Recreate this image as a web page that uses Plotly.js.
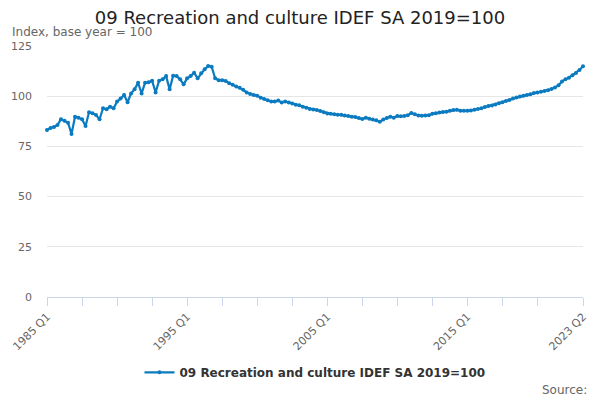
<!DOCTYPE html>
<html>
<head>
<meta charset="utf-8">
<script src="https://cdn.plot.ly/plotly-3.0.1.min.js"></script>
<style>
  body { margin: 0; }
  #chart { width: 600px; height: 400px; }
</style>
</head>
<body>
<div id="chart"></div>
<script>
// quarters 1985 Q1 .. 2023 Q2
var firstYear = 1985;
var quarterCount = 154;

var indexValues = [
    83.2, 84.2, 84.7, 85.7, 88.5, 87.8, 86.8, 81.2, 89.8, 89.3,
    88.5, 85.2, 92.0, 91.5, 90.6, 88.5, 94.0, 93.5, 94.8, 94.0,
    97.3, 98.8, 100.6, 97.0, 101.4, 103.4, 106.7, 101.4, 106.7, 106.9,
    107.7, 101.9, 107.7, 108.4, 110.0, 103.4, 110.2, 110.0, 108.4, 105.9,
    108.9, 110.0, 111.7, 108.9, 111.4, 113.4, 115.0, 114.7, 108.9, 108.0,
    108.0, 107.6, 106.5, 105.7, 104.8, 104.2, 103.2, 101.8, 101.1, 100.6,
    100.2, 99.2, 98.6, 98.0, 97.4, 97.3, 97.8, 96.9, 97.3, 96.9,
    96.4, 95.8, 95.5, 94.7, 94.2, 93.6, 93.4, 93.1, 92.6, 92.0,
    91.4, 91.2, 91.0, 90.8, 90.7, 90.4, 90.2, 89.8, 89.6, 89.1,
    88.6, 89.3, 88.8, 88.4, 88.0, 87.3, 88.4, 89.2, 89.8, 89.3,
    90.1, 90.0, 90.2, 90.5, 91.6, 91.0, 90.4, 90.3, 90.4, 90.5,
    91.2, 91.5, 91.9, 92.1, 92.3, 92.8, 93.1, 93.2, 92.8, 92.7,
    92.7, 92.9, 93.2, 93.6, 94.0, 94.6, 95.1, 95.4, 95.9, 96.5,
    97.0, 97.6, 98.1, 98.8, 99.3, 99.8, 100.2, 100.6, 101.0, 101.6,
    101.9, 102.2, 102.6, 103.0, 103.6, 104.3, 105.4, 107.3, 108.5, 109.2,
    110.4, 111.6, 113.1, 114.9
];

var quarterLabels = [];
for (var i = 0; i < quarterCount; i++) {
    quarterLabels.push((firstYear + Math.floor(i / 4)) + " Q" + (i % 4 + 1));
}

var tickIdx = [0, 10, 20, 30, 40, 50, 60, 70, 80, 90, 100, 110, 120, 130, 140, 153];
var labelledIdx = [0, 40, 80, 120, 153];
var yTicks = [0, 25, 50, 75, 100, 125];

var tickVals = tickIdx.map(k => quarterLabels[k]);
var tickText = tickIdx.map(k => labelledIdx.indexOf(k) >= 0 ? quarterLabels[k] : "");

var seriesName = "09 Recreation and culture IDEF SA 2019=100";

var data = [
    {
    x: quarterLabels,
    y: indexValues,
    mode: 'lines+markers',
    type: 'scatter',
    name: seriesName,
    cliponaxis: false,
    line: {
        color: '#0b7bc1',
        width: 2.2
    },
    marker: {
        color: '#0b7bc1',
        size: 4
    }
    }
];

var layout = {
    width: 600,
    height: 400,
    margin: {l: 47, r: 17, t: 46, b: 103},
    font: {
        family: 'DejaVu Sans, sans-serif',
        color: '#666666',
        size: 11
    },
    title: {
        text: seriesName,
        x: 0.5,
        xref: 'container',
        y: 0.955,
        yanchor: 'middle',
        font: {size: 18, color: '#222222'}
    },
    xaxis: {
        type: 'category',
        range: [0, quarterCount - 1],
        tickmode: 'array',
        tickvals: tickVals,
        ticktext: tickText,
        tickangle: -45,
        ticks: 'outside',
        ticklen: 8,
        tickcolor: '#ccd6eb',
        showline: true,
        linecolor: '#ccd6eb',
        showgrid: false,
        zeroline: false,
        tickfont: {size: 11, color: '#666666'}
    },
    yaxis: {
        range: [0, 125],
        tickmode: 'array',
        tickvals: yTicks,
        showgrid: true,
        gridcolor: '#e6e6e6',
        zeroline: false,
        showline: false,
        ticks: '',
        ticklabelstandoff: 14,
        tickfont: {size: 11, color: '#666666'}
    },
    showlegend: true,
    legend: {
        orientation: 'h',
        x: 0.5,
        xanchor: 'center',
        y: -0.30,
        yanchor: 'middle',
        font: {size: 12, color: '#333333', weight: 'bold'}
    },
    annotations: [
        {
        text: 'Index, base year = 100',
        xref: 'paper',
        yref: 'paper',
        x: -0.069,
        xanchor: 'left',
        y: 1.056,
        yanchor: 'middle',
        showarrow: false,
        font: {size: 12, color: '#666666'}
        },
        {
        text: 'Source:',
        xref: 'paper',
        yref: 'paper',
        x: 1.012,
        xanchor: 'right',
        y: -0.37,
        yanchor: 'middle',
        showarrow: false,
        font: {size: 12, color: '#666666'}
        }
    ],
    plot_bgcolor: 'white',
    paper_bgcolor: 'white'
};

Plotly.newPlot('chart', data, layout, {displayModeBar: false});
</script>
</body>
</html>
